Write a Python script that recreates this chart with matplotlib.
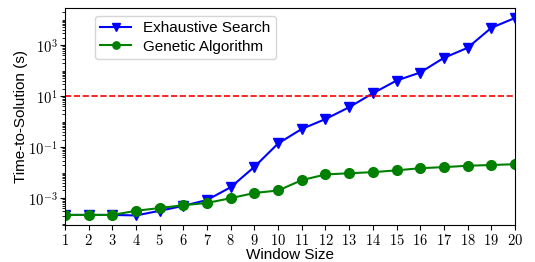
import numpy as np
import matplotlib
matplotlib.use("Agg")
import matplotlib.pyplot as plt
from matplotlib.ticker import LogLocator, FuncFormatter, NullFormatter

plt.rcParams['mathtext.fontset'] = 'cm'
plt.rcParams['font.family'] = ['Liberation Sans', 'DejaVu Sans']

window = list(range(1, 21))
exhaustive = [2.2e-4, 2.2e-4, 2.2e-4, 2.1e-4, 3.2e-4, 5.0e-4, 8.5e-4, 2.7e-3,
              1.7e-2, 0.14, 0.52, 1.27, 3.7, 13, 41, 85, 320, 790, 4800, 11700]
genetic = [2.2e-4, 2.2e-4, 2.2e-4, 3.2e-4, 4.1e-4, 5.3e-4, 6.5e-4, 1.0e-3,
           1.6e-3, 2.0e-3, 5.1e-3, 8.5e-3, 9.5e-3, 1.05e-2, 1.23e-2, 1.5e-2,
           1.65e-2, 1.87e-2, 2.0e-2, 2.15e-2]
threshold = 10

fig = plt.figure(figsize=(5.35, 2.62), dpi=100)
ax = fig.add_axes([0.1215, 0.14, 0.841, 0.829])

ax.plot(window, exhaustive, color='blue', marker='v', markersize=7, label='Exhaustive Search')
ax.plot(window, genetic, color='green', marker='o', markersize=7, label='Genetic Algorithm')
ax.axhline(threshold, color='red', linestyle='--', linewidth=1.2)

ax.set_yscale('log')
ax.set_xlim(1, 20)
ax.set_xticks(window)
ax.xaxis.set_major_formatter(FuncFormatter(lambda v, p: r'$%d$' % v))
ax.yaxis.set_major_locator(LogLocator(base=10, subs=[1.0], numticks=5))
ax.yaxis.set_major_formatter(FuncFormatter(lambda v, p: r'$10^{%d}$' % round(np.log10(v))))
ax.yaxis.set_minor_locator(LogLocator(base=10, subs=np.arange(1, 10), numticks=20))
ax.yaxis.set_minor_formatter(NullFormatter())
ax.tick_params(labelsize=10.5, pad=2)
ax.tick_params(which='minor', labelleft=False, labelbottom=False)

ax.set_xlabel('Window Size', fontsize=11, labelpad=0)
ax.set_ylabel('Time-to-Solution (s)', fontsize=11, labelpad=0)
ax.legend(loc='upper left', bbox_to_anchor=(0.05, 1.0), fontsize=11,
          markerscale=0.75, labelspacing=0.3, borderpad=0.35)

fig.savefig('out.png', dpi=100)
